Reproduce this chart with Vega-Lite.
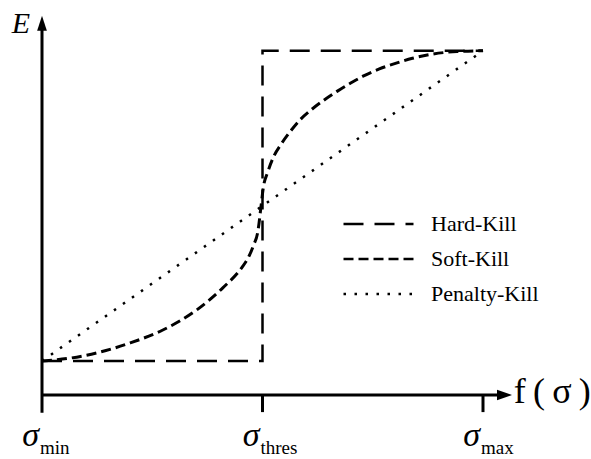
{
  "$schema": "https://vega.github.io/schema/vega-lite/v6.json",
  "width": 441,
  "height": 380,
  "autosize": {"type": "none"},
  "padding": {"left": 42, "top": 15, "right": 108, "bottom": 64},
  "background": "white",
  "config": {"view": {"stroke": null}, "font": "Liberation Serif"},
  "datasets": {
    "curves": [
      {"series": "Hard-Kill", "i": 0, "x": 0, "y": 0.0895},
      {"series": "Hard-Kill", "i": 1, "x": 0.5, "y": 0.0895},
      {"series": "Hard-Kill", "i": 2, "x": 0.5, "y": 0.906},
      {"series": "Hard-Kill", "i": 3, "x": 1, "y": 0.906},
      {"series": "Soft-Kill", "i": 0, "x": 0, "y": 0.0895},
      {"series": "Soft-Kill", "i": 1, "x": 0.0635, "y": 0.097},
      {"series": "Soft-Kill", "i": 2, "x": 0.125, "y": 0.111},
      {"series": "Soft-Kill", "i": 3, "x": 0.2, "y": 0.137},
      {"series": "Soft-Kill", "i": 4, "x": 0.274, "y": 0.171},
      {"series": "Soft-Kill", "i": 5, "x": 0.351, "y": 0.224},
      {"series": "Soft-Kill", "i": 6, "x": 0.41, "y": 0.282},
      {"series": "Soft-Kill", "i": 7, "x": 0.4535, "y": 0.336},
      {"series": "Soft-Kill", "i": 8, "x": 0.467, "y": 0.36},
      {"series": "Soft-Kill", "i": 9, "x": 0.479, "y": 0.392},
      {"series": "Soft-Kill", "i": 10, "x": 0.49, "y": 0.434},
      {"series": "Soft-Kill", "i": 11, "x": 0.496, "y": 0.49},
      {"series": "Soft-Kill", "i": 12, "x": 0.502, "y": 0.547},
      {"series": "Soft-Kill", "i": 13, "x": 0.512, "y": 0.587},
      {"series": "Soft-Kill", "i": 14, "x": 0.524, "y": 0.624},
      {"series": "Soft-Kill", "i": 15, "x": 0.544, "y": 0.663},
      {"series": "Soft-Kill", "i": 16, "x": 0.562, "y": 0.692},
      {"series": "Soft-Kill", "i": 17, "x": 0.585, "y": 0.724},
      {"series": "Soft-Kill", "i": 18, "x": 0.612, "y": 0.752},
      {"series": "Soft-Kill", "i": 19, "x": 0.637, "y": 0.774},
      {"series": "Soft-Kill", "i": 20, "x": 0.669, "y": 0.799},
      {"series": "Soft-Kill", "i": 21, "x": 0.7, "y": 0.821},
      {"series": "Soft-Kill", "i": 22, "x": 0.728, "y": 0.839},
      {"series": "Soft-Kill", "i": 23, "x": 0.765, "y": 0.858},
      {"series": "Soft-Kill", "i": 24, "x": 0.805, "y": 0.874},
      {"series": "Soft-Kill", "i": 25, "x": 0.84, "y": 0.886},
      {"series": "Soft-Kill", "i": 26, "x": 0.88, "y": 0.896},
      {"series": "Soft-Kill", "i": 27, "x": 0.941, "y": 0.904},
      {"series": "Soft-Kill", "i": 28, "x": 1, "y": 0.906},
      {"series": "Penalty-Kill", "i": 0, "x": 0, "y": 0.0895},
      {"series": "Penalty-Kill", "i": 1, "x": 1, "y": 0.906}
    ],
    "axes": [
      {"part": "x-axis", "x": 0, "x2": 1.04, "y": 0, "y2": 0},
      {"part": "y-axis", "x": 0, "x2": 0, "y": -0.047, "y2": 0.97},
      {"part": "tick-thres", "x": 0.5, "x2": 0.5, "y": -0.045, "y2": 0},
      {"part": "tick-max", "x": 1, "x2": 1, "y": -0.045, "y2": 0}
    ],
    "arrows": [
      {"x": 0, "y": 0.978, "shape": "M0,-1L0.65,1L-0.65,1Z"},
      {"x": 1.0488, "y": 0, "shape": "M1,0L-1,0.7L-1,-0.7Z"}
    ],
    "ticklabels": [
      {"x": 0, "s": "σ", "sub": "min"},
      {"x": 0.5, "s": "σ", "sub": "thres"},
      {"x": 1, "s": "σ", "sub": "max"}
    ],
    "ylabel": [{"x": 0, "y": 0.953, "t": "E"}],
    "xlabel": [{"x": 1.07, "y": -0.021, "t": "f\u2009(\u2009σ\u2009)"}]
  },
  "layer": [
    {
      "data": {"name": "curves"},
      "transform": [{"filter": "datum.series === 'Hard-Kill'"}],
      "mark": {"type": "line", "color": "black", "strokeWidth": 2.5},
      "encoding": {
        "x": {"field": "x", "type": "quantitative", "scale": {"domain": [0, 1], "nice": false, "zero": false}, "axis": null},
        "y": {"field": "y", "type": "quantitative", "scale": {"domain": [0, 1], "nice": false, "zero": false}, "axis": null},
        "order": {"field": "i"},
        "strokeDash": {
          "field": "series", "type": "nominal",
          "scale": {"domain": ["Hard-Kill", "Soft-Kill", "Penalty-Kill"], "range": [[20, 11], [10, 5], [2.5, 8.5]]},
          "legend": {
            "title": null, "orient": "none", "legendX": 300, "legendY": 191.5,
            "symbolType": "stroke", "symbolSize": 4900, "symbolStrokeWidth": 2.5,
            "symbolStrokeColor": "black", "labelFontSize": 22, "labelFont": "Liberation Serif",
            "labelColor": "black", "labelOffset": 16, "rowPadding": 0, "clipHeight": 35, "padding": 0
          }
        }
      }
    },
    {
      "data": {"name": "curves"},
      "transform": [{"filter": "datum.series === 'Soft-Kill'"}],
      "mark": {"type": "line", "color": "black", "strokeWidth": 3, "interpolate": "monotone"},
      "encoding": {
        "x": {"field": "x", "type": "quantitative", "scale": {"domain": [0, 1], "nice": false, "zero": false}, "axis": null},
        "y": {"field": "y", "type": "quantitative", "scale": {"domain": [0, 1], "nice": false, "zero": false}, "axis": null},
        "order": {"field": "i"},
        "strokeDash": {"field": "series", "type": "nominal"}
      }
    },
    {
      "data": {"name": "curves"},
      "transform": [{"filter": "datum.series === 'Penalty-Kill'"}],
      "mark": {"type": "line", "color": "black", "strokeWidth": 2.5},
      "encoding": {
        "x": {"field": "x", "type": "quantitative", "scale": {"domain": [0, 1], "nice": false, "zero": false}, "axis": null},
        "y": {"field": "y", "type": "quantitative", "scale": {"domain": [0, 1], "nice": false, "zero": false}, "axis": null},
        "order": {"field": "i"},
        "strokeDash": {"field": "series", "type": "nominal"}
      }
    },
    {
      "data": {"name": "axes"},
      "mark": {"type": "rule", "color": "black", "strokeWidth": 3},
      "encoding": {
        "x": {"field": "x", "type": "quantitative", "scale": {"domain": [0, 1], "nice": false, "zero": false}, "axis": null},
        "x2": {"field": "x2"},
        "y": {"field": "y", "type": "quantitative", "scale": {"domain": [0, 1], "nice": false, "zero": false}, "axis": null},
        "y2": {"field": "y2"}
      }
    },
    {
      "data": {"name": "arrows"},
      "mark": {"type": "point", "filled": true, "color": "black", "opacity": 1, "size": 225},
      "encoding": {
        "x": {"field": "x", "type": "quantitative", "scale": {"domain": [0, 1], "nice": false, "zero": false}, "axis": null},
        "y": {"field": "y", "type": "quantitative", "scale": {"domain": [0, 1], "nice": false, "zero": false}, "axis": null},
        "shape": {"field": "shape", "type": "nominal", "scale": null, "legend": null}
      }
    },
    {
      "data": {"name": "ticklabels"},
      "mark": {"type": "text", "font": "Liberation Serif", "fontStyle": "italic", "fontSize": 34, "align": "right", "baseline": "alphabetic", "dx": -3, "color": "black"},
      "encoding": {
        "x": {"field": "x", "type": "quantitative", "scale": {"domain": [0, 1], "nice": false, "zero": false}, "axis": null},
        "y": {"datum": -0.134, "type": "quantitative", "scale": {"domain": [0, 1], "nice": false, "zero": false}, "axis": null},
        "text": {"field": "s"}
      }
    },
    {
      "data": {"name": "ticklabels"},
      "mark": {"type": "text", "font": "Liberation Serif", "fontSize": 19, "align": "left", "baseline": "alphabetic", "dx": -2, "color": "black"},
      "encoding": {
        "x": {"field": "x", "type": "quantitative", "scale": {"domain": [0, 1], "nice": false, "zero": false}, "axis": null},
        "y": {"datum": -0.155, "type": "quantitative", "scale": {"domain": [0, 1], "nice": false, "zero": false}, "axis": null},
        "text": {"field": "sub"}
      }
    },
    {
      "data": {"name": "ylabel"},
      "mark": {"type": "text", "font": "Liberation Serif", "fontStyle": "italic", "fontSize": 30, "align": "right", "baseline": "alphabetic", "dx": -12, "color": "black"},
      "encoding": {
        "x": {"field": "x", "type": "quantitative", "scale": {"domain": [0, 1], "nice": false, "zero": false}, "axis": null},
        "y": {"field": "y", "type": "quantitative", "scale": {"domain": [0, 1], "nice": false, "zero": false}, "axis": null},
        "text": {"field": "t"}
      }
    },
    {
      "data": {"name": "xlabel"},
      "mark": {"type": "text", "font": "Liberation Serif", "fontSize": 36, "align": "left", "baseline": "alphabetic", "color": "black"},
      "encoding": {
        "x": {"field": "x", "type": "quantitative", "scale": {"domain": [0, 1], "nice": false, "zero": false}, "axis": null},
        "y": {"field": "y", "type": "quantitative", "scale": {"domain": [0, 1], "nice": false, "zero": false}, "axis": null},
        "text": {"field": "t"}
      }
    }
  ]
}
